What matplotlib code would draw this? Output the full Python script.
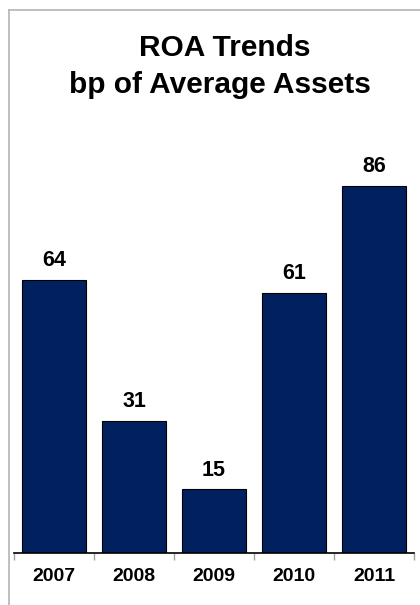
import matplotlib.pyplot as plt
from matplotlib.lines import Line2D

years = ['2007', '2008', '2009', '2010', '2011']
roa_bp = [64, 31, 15, 61, 86]

plt.rcParams['font.family'] = ['Liberation Sans', 'DejaVu Sans']

fig = plt.figure(figsize=(4.2, 6.05), dpi=100)

# light grey frame (left and top edges of the slide area)
fx, fy = 8.5 / 420, 1 - 9.5 / 605
fig.add_artist(Line2D([fx, fx], [0, fy], color='#b4b4b4', lw=1.2))
fig.add_artist(Line2D([fx, 1], [fy, fy], color='#b4b4b4', lw=1.2))

ax = fig.add_axes([14 / 420, 1 - 553 / 605, 400 / 420, 427 / 605])
x = range(len(years))
bars = ax.bar(x, roa_bp, width=0.79, color='#002060', edgecolor='black', linewidth=0.8)

for i, v in enumerate(roa_bp):
    ax.annotate(str(v), (i, v), xytext=(0, 6), textcoords='offset points',
                ha='center', va='bottom', fontsize=15.5, fontweight='bold')

ax.set_xlim(-0.5, 4.5)
ax.set_ylim(0, 100)
ax.set_xticks([i - 0.5 for i in range(len(years) + 1)])
ax.set_xticklabels([])
ax.set_xticks(list(x), minor=True)
ax.set_xticklabels(years, minor=True, fontsize=14, fontweight='bold')
ax.tick_params(axis='x', which='major', direction='out', length=5, color='#a0a0a0', width=1)
ax.tick_params(axis='x', which='minor', length=0, pad=11)
ax.set_yticks([])
for s in ['top', 'right', 'left']:
    ax.spines[s].set_visible(False)
ax.spines['bottom'].set_linewidth(1.2)

fig.text(0.536, 1 - 56 / 605, 'ROA Trends', ha='center', va='baseline',
         fontsize=21.5, fontweight='bold')
fig.text(0.524, 1 - 93 / 605, 'bp of Average Assets', ha='center', va='baseline',
         fontsize=21.5, fontweight='bold')

fig.savefig('out.png', dpi=100)
